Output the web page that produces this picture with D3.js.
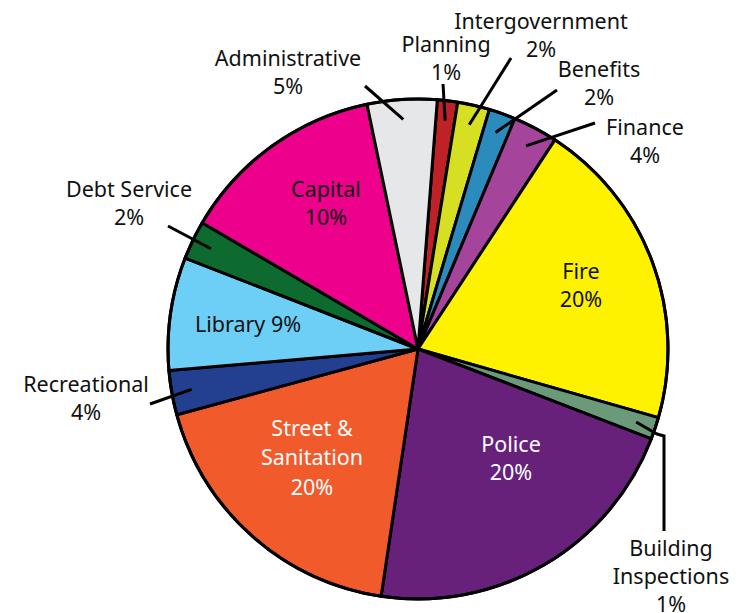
<!DOCTYPE html>
<html>
<head>
<meta charset="utf-8">
<script src="https://cdn.jsdelivr.net/npm/d3@7/dist/d3.min.js"></script>
<style>
  html, body { margin: 0; padding: 0; background: #fff; }
  svg { display: block; }
  text { font-family: "Noto Sans", "Open Sans", sans-serif; font-size: 21.5px; }
</style>
</head>
<body>
<svg id="chart" width="749" height="613"></svg>
<script>
// ---- Data ----
const categories = ["Planning", "Intergovernment", "Benefits", "Finance", "Fire",
  "Building Inspections", "Police", "Street & Sanitation", "Recreational",
  "Library", "Debt Service", "Capital", "Administrative"];
const shares = [1.31, 2.07, 1.72, 2.89, 20.2, 1.42, 21.5, 18.4, 2.86, 7.3, 2.5, 13.3, 4.5];
const percentLabels = ["1%", "2%", "2%", "4%", "20%", "1%", "20%", "20%", "4%", "9%", "2%", "10%", "5%"];
const colors = ["#be2126", "#d7df23", "#2b8bbd", "#a4449a", "#fff200", "#6a9a7a",
  "#68217a", "#f15a2b", "#233f8f", "#6dcff6", "#0e6b2f", "#ec008c", "#e6e7e8"];

// ---- Layout ----
const W = 749, H = 613;
const cx = 418, cy = 349, R = 250;
const startDeg = 4.43;

const labelLayout = {
  "Planning":            { lines: ["Planning", "1%"], at: [28, -305], leader: [[25, -265]] },
  "Intergovernment":     { lines: ["Intergovernment", "2%"], at: [123, -328], leader: [[93, -291]] },
  "Benefits":            { lines: ["Benefits", "2%"], at: [181, -280], leader: [[139, -259]] },
  "Finance":             { lines: ["Finance", "4%"], at: [227, -222], leader: [[177, -226]] },
  "Fire":                { lines: ["Fire", "20%"], at: [163, -78] },
  "Building Inspections":{ lines: ["Building", "Inspections", "1%"], at: [253, 199], spacing: 28,
                           leader: [[239, 85], [246, 87], [246, 182]] },
  "Police":              { lines: ["Police", "20%"], at: [93, 95], fill: "#fff" },
  "Street & Sanitation": { lines: ["Street &", "Sanitation", "20%"], at: [-106, 79], fill: "#fff", spacing: 29.5 },
  "Recreational":        { lines: ["Recreational", "4%"], at: [-332, 35], leader: [[-268, 55]] },
  "Library":             { lines: ["Library 9%"], at: [-170, -25] },
  "Debt Service":        { lines: ["Debt Service", "2%"], at: [-289, -160], leader: [[-250, -123]] },
  "Capital":             { lines: ["Capital", "10%"], at: [-92, -160] },
  "Administrative":      { lines: ["Administrative", "5%"], at: [-130, -291], leader: [[-53, -263]] }
};

const svg = d3.select("#chart");
const g = svg.append("g").attr("transform", `translate(${cx},${cy})`);

const data = categories.map((c, i) => ({ name: c, value: shares[i], pct: percentLabels[i], color: colors[i] }));

const pie = d3.pie()
  .sort(null)
  .value(d => d.value)
  .startAngle(startDeg * Math.PI / 180)
  .endAngle(startDeg * Math.PI / 180 + 2 * Math.PI);

const arcs = pie(data);
const arc = d3.arc().innerRadius(0).outerRadius(R);

g.selectAll("path.slice")
  .data(arcs)
  .join("path")
  .attr("class", "slice")
  .attr("d", arc)
  .attr("fill", d => d.data.color)
  .attr("stroke", "#000")
  .attr("stroke-width", 3)
  .attr("stroke-linejoin", "round");

g.append("circle").attr("r", R).attr("fill", "none").attr("stroke", "#000").attr("stroke-width", 3);

const line = d3.line();
arcs.forEach(a => {
  const L = labelLayout[a.data.name];
  if (!L || !L.leader) return;
  const mid = (a.startAngle + a.endAngle) / 2;
  const rin = R * 0.92;
  const p0 = [rin * Math.sin(mid), -rin * Math.cos(mid)];
  g.append("path")
    .attr("d", line([p0, ...L.leader]))
    .attr("fill", "none")
    .attr("stroke", "#000")
    .attr("stroke-width", 3)
    .attr("stroke-linejoin", "miter");
});

arcs.forEach(a => {
  const L = labelLayout[a.data.name];
  if (!L) return;
  const sp = L.spacing || 28.5;
  const t = g.append("text")
    .attr("text-anchor", "middle")
    .attr("fill", L.fill || "#111");
  L.lines.forEach((ln, i) => {
    t.append("tspan")
      .attr("x", L.at[0])
      .attr("y", L.at[1] + i * sp)
      .attr("dy", "0.35em")
      .text(ln);
  });
});
</script>
</body>
</html>
